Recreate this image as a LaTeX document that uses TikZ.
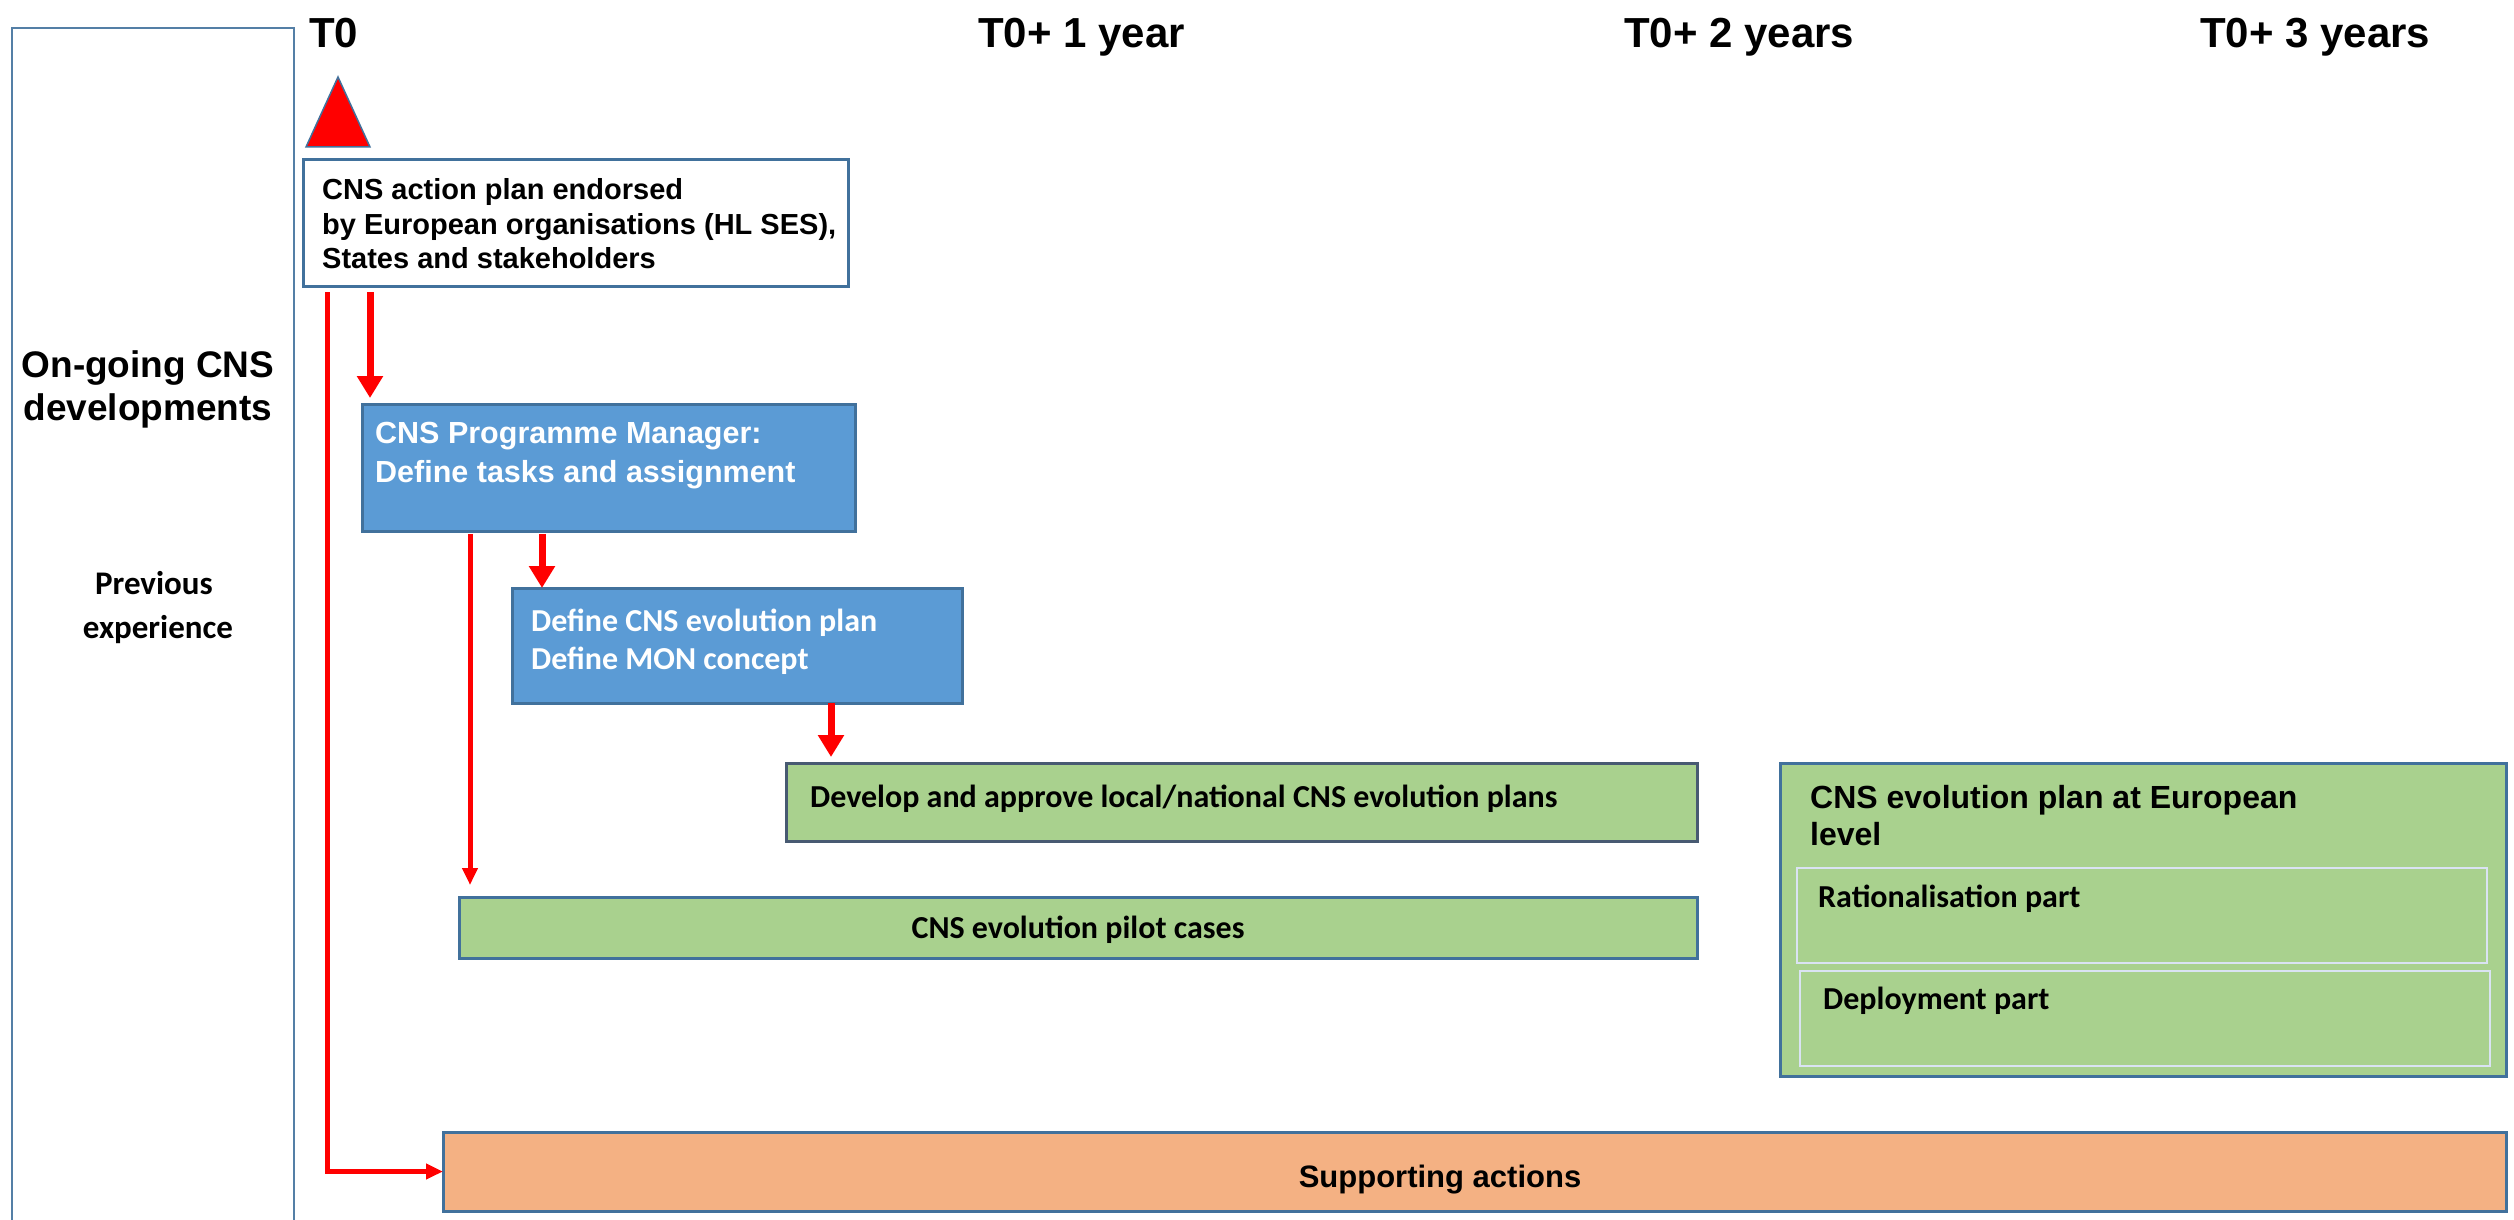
\documentclass[tikz,border=0pt]{standalone}
\usepackage{fontspec}
\setmainfont{Liberation Sans}
\newfontfamily\calfont{Carlito}
\usetikzlibrary{arrows.meta}
\definecolor{boxblue}{HTML}{5B9BD5}
\definecolor{edgeblue}{HTML}{41719C}
\definecolor{boxgreen}{HTML}{A9D18E}
\definecolor{boxorange}{HTML}{F4B183}
\definecolor{innerline}{HTML}{DAE3F3}
\definecolor{darkedge}{HTML}{485A72}
\definecolor{arrred}{HTML}{FF0000}
\begin{document}
\begin{tikzpicture}[x=1pt,y=-1pt,
  box/.style={draw=edgeblue, line width=3pt, anchor=north west, inner sep=0pt, outer sep=0pt},
  bluebox/.style={box, fill=boxblue},
  greenbox/.style={box, fill=boxgreen},
  innerbox/.style={draw=innerline, line width=2.5pt, anchor=north west, inner sep=0pt, outer sep=0pt},
  leftbox/.style={draw=edgeblue!90!white, line width=2pt, anchor=north west, inner sep=0pt},
  head/.style={anchor=base west, inner sep=0pt, font=\bfseries\fontsize{42}{50}\selectfont},
  arialtxt/.style={anchor=base west, inner sep=0pt, font=\bfseries\fontsize{29}{35}\selectfont},
  pmtxt/.style={anchor=base west, inner sep=0pt, text=white, font=\bfseries\fontsize{30.5}{36}\selectfont},
  caltxt/.style={anchor=base west, inner sep=0pt, font=\calfont\bfseries\fontsize{32}{38}\selectfont},
  lefttxt/.style={anchor=base, inner sep=0pt, font=\bfseries\fontsize{37}{44}\selectfont},
  lefttxtcal/.style={anchor=base, inner sep=0pt, font=\calfont\bfseries\fontsize{33}{40}\selectfont},
  shortarrow/.style={draw=arrred, line width=7pt, -{Triangle[width=25pt,length=22pt]}},
  longarrow/.style={draw=arrred, line width=5pt, -{Triangle[width=15pt,length=17pt]}}
]
\useasboundingbox[fill=white] (0,0) rectangle (2514,1220);

% left column box
\node[leftbox, minimum width=282pt, minimum height=1230pt] (prev) at (11,27) {};
\node[lefttxt] (og1) at (148,377) {On-going CNS};
\node[lefttxt] (og2) at (148,420) {developments};
\node[lefttxtcal] (pe1) at (154,594) {Previous};
\node[lefttxtcal] (pe2) at (158,638) {experience};

% timeline headings
\node[head] (t0) at (309,48) {T0};
\node[head] (t1) at (978,48) {T0+ 1 year};
\node[head] (t2) at (1624,48) {T0+ 2 years};
\node[head] (t3) at (2200,48) {T0+ 3 years};

% red milestone triangle
\filldraw[fill=arrred, draw=edgeblue, line width=1.5pt] (306,147) -- (338,77) -- (370,147) -- cycle;

% action plan box
\node[box, fill=white, minimum width=545pt, minimum height=126pt] (plan) at (303,160) {};
\node[arialtxt] (plan1) at (322,199) {CNS action plan endorsed};
\node[arialtxt] (plan2) at (322,234) {by European organisations (HL SES),};
\node[arialtxt] (plan3) at (322,268) {States and stakeholders};

% programme manager
\node[bluebox, minimum width=493pt, minimum height=127pt] (pm) at (362,404) {};
\node[pmtxt] (pm1) at (375,443) {CNS Programme Manager:};
\node[pmtxt] (pm2) at (375,482) {Define tasks and assignment};

% define plan
\node[bluebox, minimum width=450pt, minimum height=115pt] (def) at (512,588) {};
\node[caltxt, text=white] (def1) at (531,631) {Define CNS evolution plan};
\node[caltxt, text=white] (def2) at (531,669) {Define MON concept};

% local plans
\node[greenbox, draw=darkedge, minimum width=911pt, minimum height=78pt] (loc) at (786,763) {};
\node[caltxt] (loc1) at (810,807) {Develop and approve local/national CNS evolution plans};

% pilot cases
\node[greenbox, minimum width=1238pt, minimum height=61pt] (pil) at (459,897) {};
\node[caltxt, anchor=base] (pil1) at (1078,938) {CNS evolution pilot cases};

% European level
\node[greenbox, minimum width=726pt, minimum height=313pt] (eur) at (1780,763) {};
\node[arialtxt, font=\bfseries\fontsize{32}{38}\selectfont] (eur1) at (1810,808) {CNS evolution plan at European};
\node[arialtxt, font=\bfseries\fontsize{32}{38}\selectfont] (eur2) at (1810,845) {level};
\node[innerbox, minimum width=690pt, minimum height=95pt] (rat) at (1797,868) {};
\node[caltxt] (rat1) at (1818,907) {Rationalisation part};
\node[innerbox, minimum width=690pt, minimum height=95pt] (dep) at (1800,971) {};
\node[caltxt] (dep1) at (1823,1009) {Deployment part};

% supporting actions
\node[box, fill=boxorange, minimum width=2063pt, minimum height=79pt] (sup) at (443,1132) {};
\node[arialtxt, anchor=base, font=\bfseries\fontsize{31}{37}\selectfont] (sup1) at (1440,1187) {Supporting actions};

% connectors
\draw[shortarrow] ([xshift=67pt,yshift=-6pt]plan.south west) -- ([xshift=8pt,yshift=6pt]pm.north west);
\draw[shortarrow] ([xshift=180pt,yshift=-3pt]pm.south west) -- ([xshift=30pt]def.north west);
\draw[shortarrow] ([xshift=319pt]def.south west) -- ([xshift=45pt,yshift=6pt]loc.north west);
\draw[longarrow] ([xshift=108pt,yshift=-3pt]pm.south west) -- ([xshift=11pt,yshift=12pt]pil.north west);
\draw[longarrow] ([xshift=24pt,yshift=-6pt]plan.south west) |- (sup.west);
\end{tikzpicture}
\end{document}
